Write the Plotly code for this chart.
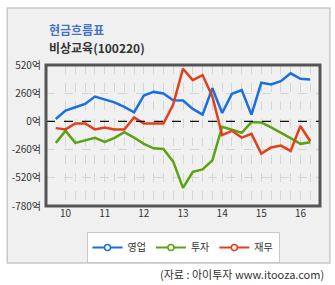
import plotly.graph_objects as go

FONT = "Noto Sans CJK KR"

# ---- data ----
quarters = list(range(27))
year_labels = {1: "10", 5: "11", 9: "12", 13: "13", 17: "14", 21: "15", 25: "16"}

op_cf = [22, 99, 130, 161, 229, 204, 176, 133, 84, 238, 272, 257, 195, 192, 115, 62,
         306, 77, 254, 288, 62, 356, 340, 371, 443, 393, 387]
inv_cf = [-198, -87, -198, -176, -152, -189, -152, -99, -149, -207, -248, -254, -371, -613,
          -464, -443, -359, -50, -77, -105, -6, -9, -56, -102, -155, -207, -192]
fin_cf = [-62, -74, -19, -19, -74, -56, -74, -74, 37, -19, -19, -19, 155, 486, 381, 427,
          230, -126, -87, -149, -115, -297, -241, -223, -272, -43, -183]

series_names = ["영업", "투자", "재무"]
series_colors = ["#1a6fe0", "#5ba214", "#e2401a"]
series_values = [op_cf, inv_cf, fin_cf]

y_ticks = [520, 260, 0, -260, -520, -780]
y_ticktext = [f"{v}억" for v in y_ticks]
band_pairs = [(0, 260), (-520, -260)]
ZERO = 0

title1 = "현금흐름표"
title2 = "비상교육(100220)"
source = "(자료 : 아이투자 www.itooza.com)"

# ---- figure ----
W, H = 335, 285
ML, MR, MT, MB = 44, 15, 65, 79
pw = W - ML - MR
ph = H - MT - MB


def px_x(p):
    return (p - ML) / pw


def px_y(p):
    return (H - MB - p) / ph


fig = go.Figure()

for name, color, vals in zip(series_names, series_colors, series_values):
    fig.add_trace(go.Scatter(x=quarters, y=vals, mode="lines", name=name,
                             line=dict(color=color, width=2.5), showlegend=False,
                             hoverinfo="skip"))
    fig.add_trace(go.Scatter(x=[None], y=[None], mode="lines+markers", name=name,
                             line=dict(color=color, width=2),
                             marker=dict(symbol="circle", size=6, color="white",
                                         line=dict(color=color, width=1.5))))

shapes = []
# outer panel
shapes.append(dict(type="rect", xref="paper", yref="paper",
                   x0=px_x(5), x1=px_x(330), y0=px_y(263), y1=px_y(8),
                   fillcolor="#f0f0f0", line=dict(color="#c8c8c8", width=1.5),
                   layer="below"))
# bands
for lo, hi in band_pairs:
    shapes.append(dict(type="rect", xref="paper", yref="y", x0=0, x1=1, y0=lo, y1=hi,
                       fillcolor="#f0f0f0", line=dict(width=0), layer="below"))
# zero line
shapes.append(dict(type="line", xref="paper", yref="y", x0=0, x1=1, y0=ZERO, y1=ZERO,
                   line=dict(color="#111111", width=1.2, dash="dash"), layer="above"))
# frame
shapes.append(dict(type="rect", xref="paper", yref="paper", x0=0, x1=1, y0=0, y1=1,
                   line=dict(color="#555555", width=3), layer="above"))

annotations = [
    dict(text=f"<b>{title1}</b>", xref="paper", yref="paper", x=px_x(45), y=px_y(29),
         xanchor="left", yanchor="middle", showarrow=False,
         font=dict(family=FONT, size=12, color="#4472c4")),
    dict(text=f"<b>{title2}</b>", xref="paper", yref="paper", x=px_x(45), y=px_y(47),
         xanchor="left", yanchor="middle", showarrow=False,
         font=dict(family=FONT, size=12, color="#333333")),
    dict(text=source, xref="paper", yref="paper", x=px_x(326), y=px_y(274),
         xanchor="right", yanchor="middle", showarrow=False,
         font=dict(family=FONT, size=11, color="#333333")),
]

fig.update_layout(
    width=W, height=H,
    margin=dict(l=ML, r=MR, t=MT, b=MB, pad=0),
    paper_bgcolor="white", plot_bgcolor="white",
    font=dict(family=FONT, size=10, color="#333333"),
    shapes=shapes, annotations=annotations,
    showlegend=True,
    legend=dict(orientation="h", x=0.5, xanchor="center", y=px_y(232), yanchor="top",
                bgcolor="white", bordercolor="#c8c8c8", borderwidth=1,
                font=dict(family=FONT, size=10, color="#333333"),
                itemwidth=30, tracegroupgap=0),
    xaxis=dict(range=[-1, 27], tickmode="array",
               tickvals=quarters[1:],
               ticktext=[year_labels.get(q, "") for q in quarters[1:]],
               showgrid=True, gridcolor="#d2d8d2", griddash="dash", gridwidth=1,
               zeroline=False, showline=False, ticks="", fixedrange=True,
               tickfont=dict(family=FONT, size=10, color="#333333")),
    yaxis=dict(range=[-780, 520], tickmode="array", tickvals=y_ticks,
               ticktext=y_ticktext, showgrid=True, gridcolor="#d5d5d5",
               griddash="dash", gridwidth=1, zeroline=False, showline=False,
               ticks="", ticklabelstandoff=4, fixedrange=True,
               tickfont=dict(family=FONT, size=10, color="#333333")),
)

fig.write_html("out.html")
